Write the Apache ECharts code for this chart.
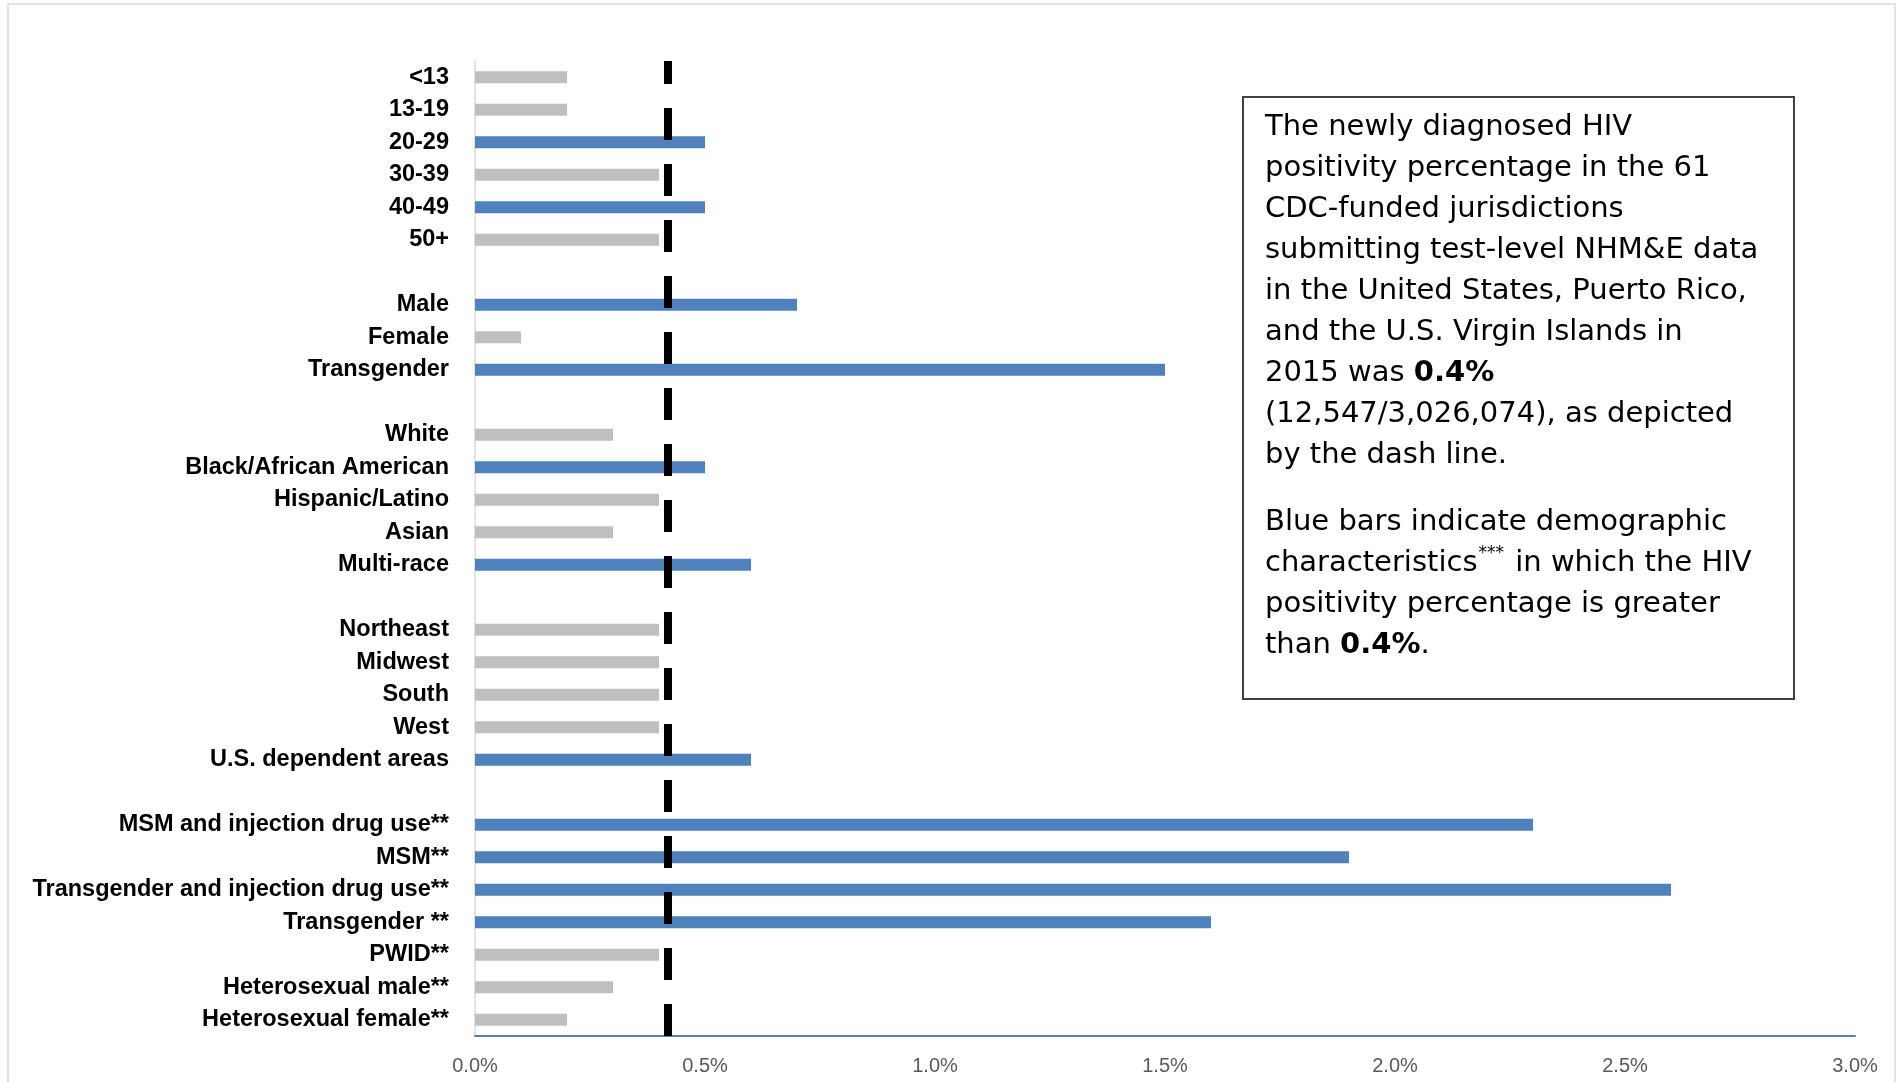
<!DOCTYPE html>
<html>
<head>
<meta charset="utf-8">
<script src="https://cdn.jsdelivr.net/npm/echarts@6/dist/echarts.min.js"></script>
<style>
html,body{margin:0;padding:0;background:#fff;}
#chart{width:1898px;height:1082px;}
</style>
</head>
<body>
<div id="chart"></div>
<script>
// ---- data ----
const categories = [
  '<13','13-19','20-29','30-39','40-49','50+','',
  'Male','Female','Transgender','',
  'White','Black/African American','Hispanic/Latino','Asian','Multi-race','',
  'Northeast','Midwest','South','West','U.S. dependent areas','',
  'MSM and injection drug use**','MSM**','Transgender and injection drug use**','Transgender **','PWID**','Heterosexual male**','Heterosexual female**'
];
const positivity = [
  0.2,0.2,0.5,0.4,0.5,0.4,null,
  0.7,0.1,1.5,null,
  0.3,0.5,0.4,0.3,0.6,null,
  0.4,0.4,0.4,0.4,0.6,null,
  2.3,1.9,2.6,1.6,0.4,0.3,0.2
];
const overallPct = 0.417; // dashed reference line (12,547 / 3,026,074)
const xTicks = [0, 0.5, 1.0, 1.5, 2.0, 2.5, 3.0];

const BLUE = '#4F81BD', GREY = '#BFBFBF';

const chart = echarts.init(document.getElementById('chart'));

const barData = positivity.map(v => v == null ? '-' : {
  value: v,
  itemStyle: { color: v > 0.4 ? BLUE : GREY }
});

const TXT = "Verdana, 'DejaVu Sans', sans-serif";
const FS = 29;
const para1 = [
  'The newly diagnosed HIV',
  'positivity percentage in the 61',
  'CDC-funded jurisdictions',
  'submitting test-level NHM&E data',
  'in the United States, Puerto Rico,',
  'and the U.S. Virgin Islands in',
  '2015 was {b|0.4%}',
  '(12,547/3,026,074), as depicted',
  'by the dash line.'
].join('\n');
const para2 = [
  'Blue bars indicate demographic',
  'characteristics{s|***} in which the HIV',
  'positivity percentage is greater',
  'than {b|0.4%}.'
].join('\n');

const richStyles = {
  b: { fontWeight: 'bold', fontSize: FS, fontFamily: TXT, lineHeight: 41, fill: '#000' },
  s: { fontSize: 17, fontFamily: TXT, lineHeight: 41, fill: '#000', padding: [0,2,20,1] }
};

chart.setOption({
  animation: false,
  grid: { left: 475, right: 43, top: 61, bottom: 46, containLabel: false },
  xAxis: {
    type: 'value', min: xTicks[0], max: xTicks[xTicks.length-1], interval: 0.5,
    axisLine: { show: true, lineStyle: { color: BLUE, width: 2 } },
    axisTick: { show: false },
    splitLine: { show: false },
    axisLabel: {
      formatter: v => v.toFixed(1) + '%',
      color: '#595959', fontSize: 20, margin: 20,
      fontFamily: "'Liberation Sans Narrow', 'Liberation Sans', Arial, sans-serif"
    }
  },
  yAxis: {
    type: 'category', data: categories, inverse: true,
    axisLine: { show: true, lineStyle: { color: '#D9D9D9', width: 1.5 } },
    axisTick: { show: false },
    axisLabel: {
      color: '#000', fontWeight: 'bold', fontSize: 23.5, margin: 26, interval: 0,
      fontFamily: "'Liberation Sans', Arial, sans-serif"
    }
  },
  series: [{
    type: 'bar', data: barData, barWidth: 12,
    markLine: {
      silent: true, symbol: 'none', label: { show: false },
      lineStyle: { color: '#000', width: 8, type: [32, 24], dashOffset: 9 },
      data: [{ xAxis: overallPct }]
    }
  }],
  graphic: [
    { type: 'rect', shape: { x: 8, y: 4, width: 1887, height: 1100 },
      style: { fill: 'none', stroke: '#D9D9D9', lineWidth: 1.5 }, silent: true },
    { type: 'rect', shape: { x: 1243, y: 97, width: 551, height: 602 },
      style: { fill: '#fff', stroke: '#404040', lineWidth: 2 }, z: 10 },
    { type: 'text', x: 1265, y: 107, z: 11,
      style: { text: para1, fontSize: FS, fontFamily: TXT, lineHeight: 41, fill: '#000', rich: richStyles } },
    { type: 'text', x: 1265, y: 502, z: 11,
      style: { text: para2, fontSize: FS, fontFamily: TXT, lineHeight: 41, fill: '#000', rich: richStyles } }
  ]
});
</script>
</body>
</html>
